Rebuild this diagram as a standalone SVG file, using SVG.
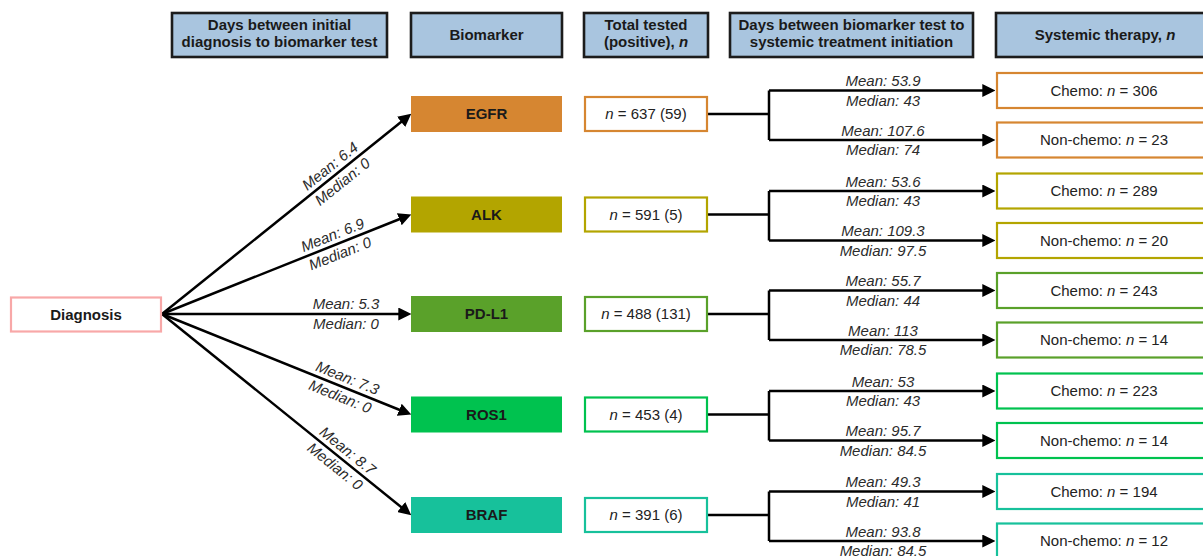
<svg xmlns="http://www.w3.org/2000/svg" width="1203" height="556" viewBox="0 0 1203 556">
<defs>
<style>
.hdr{fill:#a9c5df;stroke:#1c1c1c;stroke-width:2.6}
.ht{font-family:"Liberation Sans",Arial,sans-serif;font-size:15px;font-weight:bold;fill:#1a1a1a;text-anchor:middle}
.bm{stroke:none}
.bt{font-family:"Liberation Sans",Arial,sans-serif;font-size:15px;font-weight:bold;fill:#1a1a1a;text-anchor:middle}
.ob{fill:#fff;stroke-width:2.2}
.nt{font-family:"Liberation Sans",Arial,sans-serif;font-size:15px;fill:#222;text-anchor:middle}
.lb{font-family:"Liberation Sans",Arial,sans-serif;font-size:15px;font-style:italic;fill:#2b2b2b;text-anchor:middle}
.cn{fill:none;stroke:#000;stroke-width:2.5}
.ar{marker-end:url(#ah)}
</style>
<marker id="ah" viewBox="0 0 12 12" refX="8" refY="6" markerWidth="13" markerHeight="13" markerUnits="userSpaceOnUse" orient="auto">
<path d="M0,0 L12,6 L0,12 z" fill="#000"/>
</marker>
</defs>
<rect width="1203" height="556" fill="#fff"/>

<g id="headers">
<g id="h1"><rect class="hdr" x="172" y="13" width="215" height="44"/><text class="ht" x="279.5" y="30">Days between initial</text><text class="ht" x="279.5" y="47">diagnosis to biomarker test</text></g>
<g id="h2"><rect class="hdr" x="411" y="13" width="151" height="44"/><text class="ht" x="486.5" y="39.5">Biomarker</text></g>
<g id="h3"><rect class="hdr" x="584" y="13" width="124" height="44"/><text class="ht" x="646" y="30">Total tested</text><text class="ht" x="646" y="47">(positive), <tspan font-style="italic">n</tspan></text></g>
<g id="h4"><rect class="hdr" x="730" y="13" width="243" height="44"/><text class="ht" x="851.5" y="30">Days between biomarker test to</text><text class="ht" x="851.5" y="47">systemic treatment initiation</text></g>
<g id="h5"><rect class="hdr" x="996" y="13" width="220" height="44"/><text class="ht" x="1105" y="39.5">Systemic therapy, <tspan font-style="italic">n</tspan></text></g>
</g>

<g id="connectors">
<path class="cn ar" d="M162,314 L407.9,116.5"/>
<path class="cn ar" d="M162,314 L407.3,216"/>
<path class="cn ar" d="M162,314 L407,314"/>
<path class="cn ar" d="M162,314 L407.3,413"/>
<path class="cn ar" d="M162,314 L407.9,512.5"/>

<path class="cn" d="M708,114 H769 M769,90.5 V140"/>
<path class="cn ar" d="M769,90.5 H991"/>
<path class="cn ar" d="M769,140 H991"/>

<path class="cn" d="M708,214.5 H769 M769,191 V240.5"/>
<path class="cn ar" d="M769,191 H991"/>
<path class="cn ar" d="M769,240.5 H991"/>

<path class="cn" d="M708,314 H769 M769,290.5 V340"/>
<path class="cn ar" d="M769,290.5 H991"/>
<path class="cn ar" d="M769,340 H991"/>

<path class="cn" d="M708,414.5 H769 M769,391 V440.5"/>
<path class="cn ar" d="M769,391 H991"/>
<path class="cn ar" d="M769,440.5 H991"/>

<path class="cn" d="M708,515 H769 M769,491.5 V541"/>
<path class="cn ar" d="M769,491.5 H991"/>
<path class="cn ar" d="M769,541 H991"/>

<g id="diag-labels">
<g transform="translate(336.3,174) rotate(-38.77)"><text class="lb" y="-5">Mean: 6.4</text><text class="lb" y="15">Median: 0</text></g>
<g transform="translate(336.3,244.4) rotate(-21.78)"><text class="lb" y="-5">Mean: 6.9</text><text class="lb" y="15">Median: 0</text></g>
<g transform="translate(346,314)"><text class="lb" y="-5">Mean: 5.3</text><text class="lb" y="15">Median: 0</text></g>
<g transform="translate(343.8,387.4) rotate(21.98)"><text class="lb" y="-5">Mean: 7.3</text><text class="lb" y="15">Median: 0</text></g>
<g transform="translate(341.3,458.7) rotate(38.91)"><text class="lb" y="-5">Mean: 8.7</text><text class="lb" y="15">Median: 0</text></g>
</g>

<g id="fork-labels">
<text class="lb" x="883" y="86">Mean: 53.9</text><text class="lb" x="883" y="105.5">Median: 43</text>
<text class="lb" x="883" y="135.5">Mean: 107.6</text><text class="lb" x="883" y="155">Median: 74</text>
<text class="lb" x="883" y="186.5">Mean: 53.6</text><text class="lb" x="883" y="206">Median: 43</text>
<text class="lb" x="883" y="236">Mean: 109.3</text><text class="lb" x="883" y="255.5">Median: 97.5</text>
<text class="lb" x="883" y="286">Mean: 55.7</text><text class="lb" x="883" y="305.5">Median: 44</text>
<text class="lb" x="883" y="335.5">Mean: 113</text><text class="lb" x="883" y="355">Median: 78.5</text>
<text class="lb" x="883" y="386.5">Mean: 53</text><text class="lb" x="883" y="406">Median: 43</text>
<text class="lb" x="883" y="436">Mean: 95.7</text><text class="lb" x="883" y="455.5">Median: 84.5</text>
<text class="lb" x="883" y="487">Mean: 49.3</text><text class="lb" x="883" y="506.5">Median: 41</text>
<text class="lb" x="883" y="536.5">Mean: 93.8</text><text class="lb" x="883" y="556">Median: 84.5</text>
</g>
</g>

<g id="diagnosis"><rect x="11" y="297.5" width="150" height="34" fill="#fff" stroke="#f8a8a8" stroke-width="2.2"/><text class="bt" x="86" y="320">Diagnosis</text></g>

<g id="egfr"><rect class="bm" x="411" y="96" width="151" height="36" fill="#d68631"/><text class="bt" x="486.5" y="119">EGFR</text></g>
<g id="alk"><rect class="bm" x="411" y="196.5" width="151" height="36" fill="#b3a500"/><text class="bt" x="486.5" y="219.5">ALK</text></g>
<g id="pdl1"><rect class="bm" x="411" y="296" width="151" height="36" fill="#5aa12a"/><text class="bt" x="486.5" y="319">PD-L1</text></g>
<g id="ros1"><rect class="bm" x="411" y="396.5" width="151" height="36" fill="#00c24f"/><text class="bt" x="486.5" y="419.5">ROS1</text></g>
<g id="braf"><rect class="bm" x="411" y="497" width="151" height="36" fill="#17c19b"/><text class="bt" x="486.5" y="520">BRAF</text></g>

<g id="egfr-tested"><rect class="ob" x="585" y="97" width="122" height="34" stroke="#d68631"/><text class="nt" x="646" y="119"><tspan font-style="italic">n</tspan> = 637 (59)</text></g>
<g id="alk-tested"><rect class="ob" x="585" y="197.5" width="122" height="34" stroke="#b3a500"/><text class="nt" x="646" y="219.5"><tspan font-style="italic">n</tspan> = 591 (5)</text></g>
<g id="pdl1-tested"><rect class="ob" x="585" y="297" width="122" height="34" stroke="#5aa12a"/><text class="nt" x="646" y="319"><tspan font-style="italic">n</tspan> = 488 (131)</text></g>
<g id="ros1-tested"><rect class="ob" x="585" y="397.5" width="122" height="34" stroke="#00c24f"/><text class="nt" x="646" y="419.5"><tspan font-style="italic">n</tspan> = 453 (4)</text></g>
<g id="braf-tested"><rect class="ob" x="585" y="498" width="122" height="34" stroke="#17c19b"/><text class="nt" x="646" y="520"><tspan font-style="italic">n</tspan> = 391 (6)</text></g>

<g id="egfr-chemo"><rect class="ob" x="997" y="73" width="220" height="35" stroke="#d68631"/><text class="nt" x="1104" y="95.5">Chemo: <tspan font-style="italic">n</tspan> = 306</text></g>
<g id="egfr-nonchemo"><rect class="ob" x="997" y="122.5" width="220" height="35" stroke="#d68631"/><text class="nt" x="1104" y="145">Non-chemo: <tspan font-style="italic">n</tspan> = 23</text></g>
<g id="alk-chemo"><rect class="ob" x="997" y="173.5" width="220" height="35" stroke="#b3a500"/><text class="nt" x="1104" y="196">Chemo: <tspan font-style="italic">n</tspan> = 289</text></g>
<g id="alk-nonchemo"><rect class="ob" x="997" y="223" width="220" height="35" stroke="#b3a500"/><text class="nt" x="1104" y="245.5">Non-chemo: <tspan font-style="italic">n</tspan> = 20</text></g>
<g id="pdl1-chemo"><rect class="ob" x="997" y="273" width="220" height="35" stroke="#5aa12a"/><text class="nt" x="1104" y="295.5">Chemo: <tspan font-style="italic">n</tspan> = 243</text></g>
<g id="pdl1-nonchemo"><rect class="ob" x="997" y="322.5" width="220" height="35" stroke="#5aa12a"/><text class="nt" x="1104" y="345">Non-chemo: <tspan font-style="italic">n</tspan> = 14</text></g>
<g id="ros1-chemo"><rect class="ob" x="997" y="373.5" width="220" height="35" stroke="#00c24f"/><text class="nt" x="1104" y="396">Chemo: <tspan font-style="italic">n</tspan> = 223</text></g>
<g id="ros1-nonchemo"><rect class="ob" x="997" y="423" width="220" height="35" stroke="#00c24f"/><text class="nt" x="1104" y="445.5">Non-chemo: <tspan font-style="italic">n</tspan> = 14</text></g>
<g id="braf-chemo"><rect class="ob" x="997" y="474" width="220" height="35" stroke="#17c19b"/><text class="nt" x="1104" y="496.5">Chemo: <tspan font-style="italic">n</tspan> = 194</text></g>
<g id="braf-nonchemo"><rect class="ob" x="997" y="523.5" width="220" height="35" stroke="#17c19b"/><text class="nt" x="1104" y="546">Non-chemo: <tspan font-style="italic">n</tspan> = 12</text></g>
</svg>
